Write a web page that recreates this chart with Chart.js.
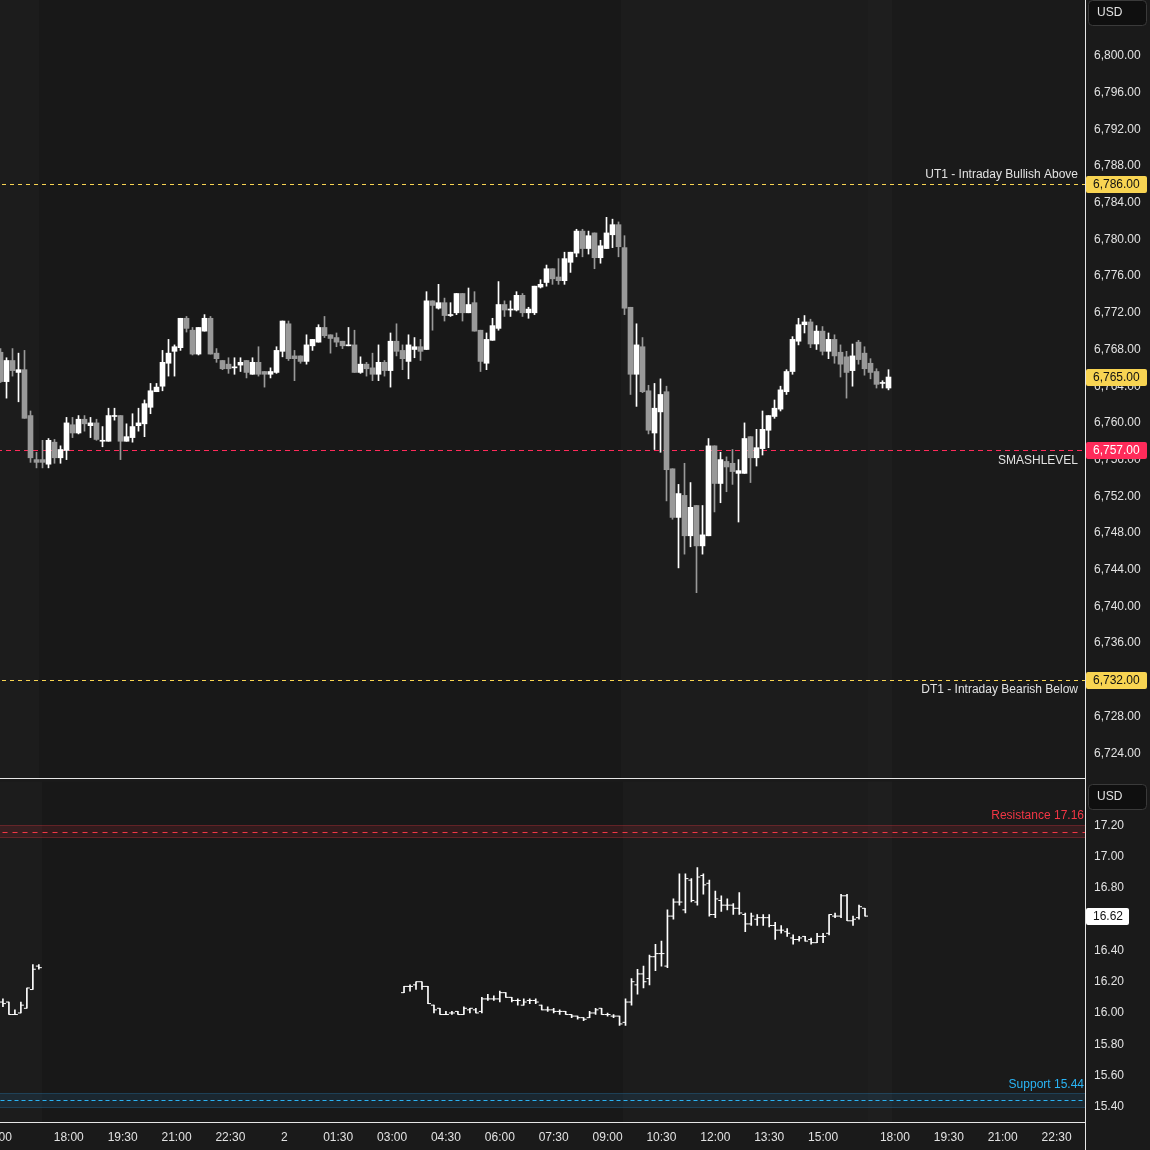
<!DOCTYPE html>
<html>
<head>
<meta charset="utf-8">
<script src="https://cdn.jsdelivr.net/npm/chart.js@4.4.1/dist/chart.umd.min.js"></script>
<style>
  html, body { margin: 0; padding: 0; background: #1a1a1a; overflow: hidden; }
  #wrap { position: relative; width: 1150px; height: 1150px; overflow: hidden; background: #1a1a1a; }
  #top { position: absolute; left: -30px; top: 0; }
  #bot { position: absolute; left: -30px; top: 779px; }
</style>
</head>
<body>
<div id="wrap">
  <canvas id="top" width="1180" height="779"></canvas>
  <canvas id="bot" width="1180" height="371"></canvas>
</div>
<script>
'use strict';

// ES 10-minute candles, one slot per bar (bar 0 sits on the left edge)
const esOpen = [
  6767.7, 6764.5, 6766.8, 6765.5, 6765.8, 6760.8, 6756.0, 6756.0, 6755.5, 6757.9,
  6756.2, 6757.0, 6759.8, 6758.9, 6760.4, 6759.7, 6760.0, 6758.0, 6758.0, 6760.7,
  6760.8, 6758.0, 6758.4, 6759.7, 6759.9, 6761.7, 6763.4, 6764.0, 6766.5, 6767.8,
  6768.2, 6771.4, 6770.1, 6767.5, 6770.0, 6771.4, 6767.6, 6766.8, 6766.4, 6766.0,
  6766.3, 6766.8, 6765.3, 6766.6, 6765.6, 6765.3, 6765.5, 6767.8, 6770.8, 6767.3,
  6767.3, 6766.7, 6768.4, 6768.8, 6770.4, 6769.6, 6769.3, 6768.9, 6768.4, 6768.5,
  6765.5, 6766.4, 6766.0, 6765.3, 6766.6, 6765.7, 6768.9, 6767.9, 6766.7, 6768.0,
  6768.3, 6768.0, 6773.3, 6772.5, 6773.1, 6771.7, 6772.0, 6774.1, 6772.0, 6773.1,
  6770.1, 6766.5, 6769.0, 6770.3, 6772.9, 6772.3, 6772.3, 6773.9, 6772.0, 6772.0,
  6774.8, 6775.3, 6776.8, 6775.9, 6775.5, 6777.5, 6778.5, 6780.9, 6779.0, 6780.7,
  6778.0, 6779.0, 6780.5, 6781.6, 6779.1, 6772.6, 6765.3, 6768.3, 6763.5, 6758.9,
  6761.2, 6763.4, 6755.0, 6749.7, 6752.1, 6747.7, 6751.0, 6746.6, 6747.7, 6757.5,
  6753.4, 6755.8, 6755.6, 6754.5, 6754.5, 6758.5, 6756.2, 6757.2, 6759.2, 6760.7,
  6761.5, 6763.4, 6765.6, 6768.9, 6770.7, 6771.0, 6768.6, 6770.0, 6767.8, 6769.1,
  6767.7, 6767.2, 6765.7, 6768.8, 6767.6, 6766.5, 6765.6, 6764.3, 6763.8
];
const esHigh = [
  6768.1, 6767.1, 6768.1, 6767.6, 6767.9, 6761.3, 6756.8, 6758.1, 6758.3, 6758.2,
  6757.5, 6760.6, 6760.6, 6760.8, 6760.8, 6760.6, 6760.4, 6759.6, 6761.6, 6761.6,
  6760.8, 6759.9, 6761.0, 6761.6, 6762.5, 6764.3, 6764.3, 6767.9, 6769.1, 6768.5,
  6771.4, 6771.6, 6770.4, 6770.4, 6771.8, 6771.6, 6768.1, 6766.8, 6767.1, 6767.1,
  6767.1, 6766.8, 6767.1, 6768.3, 6765.6, 6766.0, 6768.3, 6771.1, 6771.1, 6767.9,
  6767.3, 6769.6, 6769.1, 6770.7, 6771.6, 6769.6, 6769.8, 6768.9, 6770.4, 6770.1,
  6767.2, 6766.6, 6767.6, 6768.5, 6766.8, 6769.8, 6770.8, 6768.5, 6769.6, 6769.3,
  6769.1, 6774.3, 6773.3, 6775.1, 6773.6, 6773.1, 6774.1, 6774.1, 6774.7, 6774.3,
  6770.1, 6769.8, 6771.4, 6775.4, 6773.3, 6773.3, 6774.3, 6774.1, 6772.6, 6774.9,
  6775.6, 6777.2, 6776.8, 6777.9, 6778.6, 6778.6, 6781.1, 6781.1, 6780.9, 6780.7,
  6779.9, 6782.4, 6782.2, 6781.9, 6780.4, 6772.6, 6770.8, 6769.3, 6764.1, 6764.3,
  6764.8, 6764.0, 6755.0, 6753.3, 6755.6, 6753.5, 6751.0, 6751.0, 6758.3, 6757.5,
  6756.8, 6756.3, 6757.1, 6756.0, 6760.0, 6758.5, 6759.3, 6761.3, 6760.8, 6762.5,
  6764.0, 6765.8, 6769.4, 6771.4, 6771.7, 6771.3, 6770.6, 6770.5, 6769.8, 6769.6,
  6768.5, 6767.8, 6768.6, 6769.0, 6768.3, 6767.0, 6765.9, 6764.6, 6765.8
];
const esLow = [
  6764.4, 6762.7, 6765.1, 6762.3, 6760.5, 6755.7, 6755.1, 6755.1, 6755.1, 6755.6,
  6755.6, 6756.0, 6758.4, 6758.8, 6759.1, 6758.4, 6758.1, 6757.4, 6758.0, 6760.3,
  6756.0, 6758.0, 6757.9, 6759.1, 6758.5, 6761.0, 6763.4, 6763.5, 6765.1, 6765.1,
  6767.9, 6769.9, 6767.4, 6767.4, 6770.0, 6767.5, 6766.6, 6765.8, 6765.4, 6765.3,
  6765.6, 6764.9, 6765.3, 6765.1, 6763.9, 6764.9, 6765.4, 6767.2, 6766.8, 6764.6,
  6766.5, 6766.4, 6767.9, 6768.8, 6769.3, 6767.6, 6768.3, 6768.1, 6768.4, 6765.5,
  6765.4, 6765.1, 6764.6, 6764.6, 6765.1, 6763.9, 6767.3, 6765.8, 6764.8, 6767.1,
  6766.8, 6768.0, 6770.1, 6772.4, 6771.1, 6771.6, 6771.8, 6771.1, 6772.0, 6770.0,
  6765.6, 6765.8, 6769.0, 6770.1, 6771.6, 6771.6, 6772.2, 6771.6, 6771.4, 6771.8,
  6774.7, 6774.9, 6775.1, 6775.1, 6775.1, 6776.4, 6778.1, 6778.1, 6778.4, 6776.8,
  6777.4, 6779.0, 6779.1, 6778.1, 6771.8, 6763.1, 6761.8, 6763.3, 6758.8, 6757.1,
  6756.8, 6751.5, 6749.5, 6744.2, 6745.7, 6746.5, 6741.5, 6745.7, 6747.7, 6750.3,
  6751.3, 6752.5, 6753.3, 6749.2, 6754.5, 6753.5, 6755.3, 6756.5, 6757.3, 6760.5,
  6761.3, 6763.1, 6765.3, 6768.5, 6769.8, 6768.2, 6768.0, 6767.4, 6767.0, 6766.5,
  6765.0, 6762.7, 6764.0, 6766.4, 6765.2, 6764.8, 6763.8, 6763.8, 6763.6
];
const esClose = [
  6764.5, 6766.8, 6765.7, 6765.8, 6760.5, 6756.2, 6755.7, 6755.7, 6758.1, 6756.2,
  6757.1, 6760.0, 6758.9, 6760.4, 6759.9, 6760.0, 6758.2, 6758.1, 6760.8, 6760.8,
  6758.0, 6758.5, 6759.6, 6760.0, 6762.1, 6763.5, 6763.9, 6766.6, 6767.6, 6768.3,
  6771.4, 6770.3, 6767.5, 6770.4, 6771.4, 6767.5, 6767.0, 6765.9, 6765.9, 6766.1,
  6766.6, 6765.5, 6766.6, 6765.3, 6765.3, 6765.6, 6767.9, 6771.1, 6767.0, 6767.0,
  6766.7, 6768.5, 6769.1, 6770.4, 6769.5, 6769.2, 6768.8, 6768.4, 6768.5, 6765.5,
  6766.4, 6765.9, 6765.3, 6766.6, 6765.7, 6768.9, 6767.8, 6767.0, 6768.5, 6768.3,
  6767.8, 6773.3, 6772.8, 6773.1, 6771.7, 6771.8, 6774.1, 6772.0, 6772.9, 6770.0,
  6766.7, 6769.1, 6770.6, 6772.9, 6772.3, 6772.4, 6773.9, 6772.0, 6772.4, 6774.9,
  6775.1, 6776.8, 6775.7, 6775.5, 6777.9, 6778.6, 6780.9, 6779.0, 6780.4, 6778.0,
  6779.3, 6780.7, 6781.6, 6779.2, 6772.5, 6765.3, 6768.5, 6763.4, 6759.2, 6761.6,
  6763.1, 6754.9, 6749.7, 6752.3, 6747.7, 6750.8, 6746.6, 6747.8, 6757.5, 6753.4,
  6756.0, 6755.2, 6754.7, 6754.8, 6758.3, 6756.2, 6757.3, 6759.3, 6760.8, 6761.6,
  6763.6, 6765.6, 6769.1, 6770.7, 6771.0, 6768.6, 6770.0, 6767.8, 6769.1, 6767.3,
  6766.4, 6765.5, 6767.3, 6766.9, 6765.9, 6765.5, 6764.2, 6764.4, 6765.0
];

// VIX bars: a short overnight stub (bars 0-6), then the cash session from bar 67
const vixBars = [0, 1, 2, 3, 4, 5, 6].concat(Array.from({ length: 78 }, (_, k) => 67 + k));
const vixOpen = [
  16.07, 16.07, 15.99, 16.00, 16.03, 16.15, 16.30,
  16.13, 16.17, 16.18, 16.20, 16.17, 16.05, 16.03, 15.99, 16.00, 16.01,
  15.99, 16.02, 16.02, 16.01, 16.09, 16.09, 16.09, 16.13, 16.10, 16.08,
  16.05, 16.08, 16.08, 16.05, 16.02, 16.02, 16.01, 16.01, 15.99, 15.98,
  15.97, 15.97, 16.00, 16.03, 15.99, 15.98, 15.98, 15.94, 16.07, 16.18,
  16.25, 16.22, 16.36, 16.38, 16.30, 16.62, 16.71, 16.66, 16.85, 16.71,
  16.88, 16.83, 16.63, 16.72, 16.69, 16.69, 16.67, 16.63, 16.57, 16.60,
  16.61, 16.61, 16.56, 16.53, 16.52, 16.48, 16.47, 16.49, 16.47, 16.45,
  16.49, 16.51, 16.62, 16.62, 16.75, 16.59, 16.61, 16.67
];
const vixHigh = [
  16.09, 16.07, 16.02, 16.07, 16.16, 16.31, 16.31,
  16.17, 16.18, 16.20, 16.20, 16.17, 16.05, 16.03, 16.01, 16.01, 16.01,
  16.04, 16.03, 16.03, 16.10, 16.12, 16.11, 16.14, 16.13, 16.10, 16.09,
  16.09, 16.09, 16.09, 16.05, 16.04, 16.03, 16.02, 16.01, 15.99, 15.98,
  15.97, 16.01, 16.03, 16.03, 16.00, 15.99, 15.98, 16.09, 16.22, 16.28,
  16.30, 16.37, 16.44, 16.46, 16.66, 16.73, 16.89, 16.89, 16.86, 16.93,
  16.89, 16.85, 16.78, 16.75, 16.73, 16.70, 16.77, 16.64, 16.64, 16.63,
  16.63, 16.63, 16.58, 16.56, 16.54, 16.50, 16.49, 16.49, 16.48, 16.51,
  16.51, 16.63, 16.64, 16.76, 16.76, 16.62, 16.69, 16.67
];
const vixLow = [
  16.04, 15.99, 15.99, 16.00, 16.03, 16.15, 16.28,
  16.13, 16.14, 16.15, 16.15, 16.06, 16.00, 15.99, 15.99, 15.99, 15.99,
  15.99, 16.00, 16.00, 16.00, 16.08, 16.08, 16.07, 16.10, 16.07, 16.05,
  16.05, 16.06, 16.06, 16.02, 16.01, 16.00, 15.99, 15.99, 15.97, 15.96,
  15.95, 15.97, 15.99, 15.99, 15.98, 15.97, 15.92, 15.92, 16.05, 16.12,
  16.16, 16.18, 16.27, 16.30, 16.29, 16.60, 16.69, 16.64, 16.71, 16.69,
  16.76, 16.62, 16.61, 16.65, 16.66, 16.63, 16.63, 16.52, 16.56, 16.56,
  16.56, 16.55, 16.47, 16.51, 16.49, 16.44, 16.46, 16.46, 16.44, 16.45,
  16.45, 16.50, 16.61, 16.61, 16.59, 16.56, 16.60, 16.62
];
const vixClose = [
  16.06, 15.99, 15.99, 16.05, 16.16, 16.28, 16.29,
  16.17, 16.17, 16.20, 16.17, 16.06, 16.02, 15.99, 15.99, 16.00, 15.99,
  16.03, 16.03, 16.00, 16.09, 16.09, 16.09, 16.13, 16.10, 16.08, 16.08,
  16.07, 16.08, 16.07, 16.02, 16.02, 16.01, 16.01, 15.99, 15.98, 15.97,
  15.96, 16.00, 16.02, 15.99, 15.99, 15.98, 15.93, 16.07, 16.20, 16.25,
  16.20, 16.36, 16.38, 16.38, 16.62, 16.71, 16.71, 16.86, 16.72, 16.87,
  16.82, 16.63, 16.73, 16.69, 16.69, 16.67, 16.64, 16.57, 16.62, 16.61,
  16.61, 16.56, 16.53, 16.53, 16.51, 16.47, 16.48, 16.46, 16.45, 16.49,
  16.49, 16.63, 16.62, 16.75, 16.59, 16.60, 16.68, 16.62
];

// price axis ticks
const esTicks = [6724, 6728, 6732, 6736, 6740, 6744, 6748, 6752, 6756, 6760,
  6764, 6768, 6772, 6776, 6780, 6784, 6788, 6792, 6796, 6800];
const vixTicks = [15.4, 15.6, 15.8, 16.0, 16.2, 16.4, 16.6, 16.8, 17.0, 17.2];

// time axis: bar slot of each label and its text
const timeTicks = [-1, 11, 20, 29, 38, 47, 56, 65, 74, 83, 92, 101, 110, 119, 128, 137, 149, 158, 167, 176];
const timeLabels = ['15:00', '18:00', '19:30', '21:00', '22:30', '2', '01:30', '03:00', '04:30', '06:00',
  '07:30', '09:00', '10:30', '12:00', '13:30', '15:00', '18:00', '19:30', '21:00', '22:30'];

// drawn levels
const esLevels = [6786, 6757, 6732];
const esLevelNames = ['UT1 - Intraday Bullish Above', 'SMASHLEVEL', 'DT1 - Intraday Bearish Below'];
const vixResistance = 17.16;
const vixSupport = 15.44;

const UP = '#ffffff';
const DOWN = '#999999';
const TEXT = '#e2e2e2';
const YELLOW = '#f8d452';
const PINK = '#ff2b5a';
const FONT = '"Liberation Sans", Arial, sans-serif';
Chart.defaults.font.family = FONT;
Chart.defaults.font.size = 12;

// bar slot -> pixel: 6px a bar, chart canvas shifted 30px to the left
const xMin = -5 - 0.5 / 6;
const xMax = xMin + 1115 / 6;

// sessions shading [from, to, colour] in bar slots
const sessions = [[-20, 6.5, '#1c1c1c'], [103.5, 144.5, '#1c1c1c'], [144.5, 148.5, '#1e1e1e'], [148.5, 300, '#1a1a1a']];

function fmt(v) {
  return v.toLocaleString('en-US', { minimumFractionDigits: 2, maximumFractionDigits: 2 });
}

function paintSessions(ctx, a, x) {
  ctx.fillStyle = '#181818';
  ctx.fillRect(a.left, a.top, a.width, a.height);
  sessions.forEach(function (s) {
    const l = Math.round(Math.max(a.left, x.getPixelForValue(s[0])));
    const r = Math.round(Math.min(a.right, x.getPixelForValue(s[1])));
    if (r > l) {
      ctx.fillStyle = s[2];
      ctx.fillRect(l, a.top, r - l, a.height);
    }
  });
}

function hline(ctx, a, py, color, dash) {
  ctx.strokeStyle = color;
  ctx.lineWidth = 1;
  ctx.setLineDash(dash);
  ctx.beginPath();
  ctx.moveTo(a.left, py);
  ctx.lineTo(a.right, py);
  ctx.stroke();
  ctx.setLineDash([]);
}

function tag(ctx, x0, py, w, text, bg, fg) {
  ctx.fillStyle = bg;
  ctx.beginPath();
  ctx.roundRect(x0, Math.round(py) - 8, w, 17, 2);
  ctx.fill();
  ctx.fillStyle = fg;
  ctx.textAlign = 'left';
  ctx.textBaseline = 'middle';
  ctx.fillText(text, x0 + 7, Math.round(py) + 0.5);
}

function usdBox(ctx, x0, y0) {
  ctx.fillStyle = '#0f0f0f';
  ctx.strokeStyle = '#3a3a3a';
  ctx.lineWidth = 1;
  ctx.beginPath();
  ctx.roundRect(x0 + 0.5, y0 + 0.5, 58, 25, 4);
  ctx.fill();
  ctx.stroke();
  ctx.fillStyle = TEXT;
  ctx.textAlign = 'left';
  ctx.textBaseline = 'middle';
  ctx.fillText('USD', x0 + 9, y0 + 13);
}

function frame(ctx, chart, bottomY) {
  const a = chart.chartArea;
  ctx.fillStyle = '#e6e6e6';
  ctx.fillRect(a.right, 0, 1, chart.height);
  ctx.fillRect(0, bottomY, a.right, 1);
}

const candleColor = function (c) {
  return esClose[c.dataIndex] >= esOpen[c.dataIndex] ? UP : DOWN;
};

const topOverlay = {
  id: 'topOverlay',
  beforeDatasetsDraw(chart) {
    const ctx = chart.ctx, a = chart.chartArea, y = chart.scales.y;
    ctx.save();
    paintSessions(ctx, a, chart.scales.x);
    esLevels.forEach(function (v, k) {
      const py = Math.round(y.getPixelForValue(v)) + 0.5;
      hline(ctx, a, py, k === 1 ? PINK : YELLOW, k === 1 ? [5, 4] : [4, 4]);
    });
    ctx.restore();
  },
  afterDraw(chart) {
    const ctx = chart.ctx, a = chart.chartArea, y = chart.scales.y;
    ctx.save();
    ctx.font = '12px ' + FONT;
    esLevels.forEach(function (v, k) {
      const py = y.getPixelForValue(v);
      ctx.textAlign = 'right';
      ctx.textBaseline = 'middle';
      ctx.fillStyle = TEXT;
      ctx.fillText(esLevelNames[k], a.right - 7, py + (k === 0 ? -10 : 10));
    });
    const x0 = a.right + 1;
    const last = esClose[esClose.length - 1];
    tag(ctx, x0, y.getPixelForValue(esLevels[0]), 61, fmt(esLevels[0]), YELLOW, '#111');
    tag(ctx, x0, y.getPixelForValue(last), 61, fmt(last), YELLOW, '#111');
    tag(ctx, x0, y.getPixelForValue(esLevels[1]), 61, fmt(esLevels[1]), PINK, '#ffffff');
    tag(ctx, x0, y.getPixelForValue(esLevels[2]), 61, fmt(esLevels[2]), YELLOW, '#111');
    usdBox(ctx, a.right + 3, 0);
    frame(ctx, chart, a.bottom);
    ctx.restore();
  }
};

const botOverlay = {
  id: 'botOverlay',
  beforeDatasetsDraw(chart) {
    const ctx = chart.ctx, a = chart.chartArea, y = chart.scales.y;
    ctx.save();
    paintSessions(ctx, a, chart.scales.x);
    // resistance zone
    let t = Math.round(y.getPixelForValue(vixResistance + 0.04)), b = Math.round(y.getPixelForValue(vixResistance - 0.04));
    ctx.fillStyle = 'rgba(242, 54, 69, 0.13)';
    ctx.fillRect(a.left, t, a.width, b - t);
    ctx.fillStyle = 'rgba(242, 54, 69, 0.25)';
    ctx.fillRect(a.left, t, a.width, 1);
    ctx.fillRect(a.left, b - 1, a.width, 1);
    hline(ctx, a, Math.round(y.getPixelForValue(vixResistance)) + 0.5, '#f23645', [5, 5]);
    // support zone
    t = Math.round(y.getPixelForValue(vixSupport + 0.045));
    b = Math.round(y.getPixelForValue(vixSupport - 0.045));
    ctx.fillStyle = 'rgba(41, 150, 220, 0.12)';
    ctx.fillRect(a.left, t, a.width, b - t);
    ctx.fillStyle = 'rgba(41, 150, 220, 0.22)';
    ctx.fillRect(a.left, t, a.width, 1);
    ctx.fillRect(a.left, b - 1, a.width, 1);
    hline(ctx, a, Math.round(y.getPixelForValue(vixSupport)) + 0.5, '#2ab4f5', [4, 3]);
    ctx.restore();
  },
  afterDraw(chart) {
    const ctx = chart.ctx, a = chart.chartArea, y = chart.scales.y;
    ctx.save();
    ctx.font = '12px ' + FONT;
    ctx.textAlign = 'right';
    ctx.textBaseline = 'middle';
    ctx.fillStyle = '#f23645';
    ctx.fillText('Resistance ' + vixResistance.toFixed(2), a.right - 1, y.getPixelForValue(vixResistance) - 16);
    ctx.fillStyle = '#2ab4f5';
    ctx.fillText('Support ' + vixSupport.toFixed(2), a.right - 1, y.getPixelForValue(vixSupport) - 16);
    const last = vixClose[vixClose.length - 1];
    tag(ctx, a.right + 1, y.getPixelForValue(last), 43, last.toFixed(2), '#ffffff', '#111');
    usdBox(ctx, a.right + 3, 5);
    frame(ctx, chart, a.bottom);
    ctx.restore();
  }
};

const yAxisBase = {
  position: 'right',
  grid: { display: false, drawTicks: false },
  border: { display: false },
  ticks: { color: TEXT, padding: 9, font: { size: 12 } },
  afterFit: function (s) { s.width = 65; s.paddingTop = 0; s.paddingBottom = 0; }
};

new Chart(document.getElementById('top'), {
  type: 'bar',
  data: {
    datasets: [
      {
        label: 'wick',
        data: esHigh.map(function (h, i) { return { x: i, y: [esLow[i], h] }; }),
        backgroundColor: candleColor,
        barThickness: 1,
        grouped: false,
        order: 2
      },
      {
        label: 'body',
        data: esOpen.map(function (o, i) { return { x: i, y: [o, esClose[i]] }; }),
        backgroundColor: candleColor,
        barThickness: 5,
        minBarLength: 1,
        grouped: false,
        order: 1
      }
    ]
  },
  options: {
    responsive: false,
    animation: false,
    devicePixelRatio: 1,
    layout: { padding: { left: 0, right: 0, top: 0, bottom: 1 } },
    plugins: { legend: { display: false }, tooltip: { enabled: false } },
    scales: {
      x: { type: 'linear', min: xMin, max: xMax, offset: false, display: false },
      y: Object.assign({}, yAxisBase, {
        min: 6721.306,
        max: 6806.083,
        afterBuildTicks: function (s) { s.ticks = esTicks.map(function (v) { return { value: v }; }); },
        ticks: Object.assign({}, yAxisBase.ticks, { callback: function (v) { return fmt(v); } })
      })
    }
  },
  plugins: [topOverlay]
});

new Chart(document.getElementById('bot'), {
  type: 'bar',
  data: {
    datasets: [
      {
        label: 'range',
        data: vixBars.map(function (b, k) { return { x: b, y: [vixLow[k], vixHigh[k]] }; }),
        backgroundColor: UP,
        barThickness: 1,
        minBarLength: 1,
        grouped: false
      },
      {
        type: 'line',
        label: 'open',
        data: vixBars.map(function (b, k) { return { x: b - 0.25, y: vixOpen[k] }; }),
        showLine: false,
        pointStyle: 'line',
        pointRadius: 1.5,
        pointHoverRadius: 1.5,
        pointBorderWidth: 1,
        pointBorderColor: UP,
        borderColor: UP
      },
      {
        type: 'line',
        label: 'close',
        data: vixBars.map(function (b, k) { return { x: b + 0.25, y: vixClose[k] }; }),
        showLine: false,
        pointStyle: 'line',
        pointRadius: 1.5,
        pointHoverRadius: 1.5,
        pointBorderWidth: 1,
        pointBorderColor: UP,
        borderColor: UP
      }
    ]
  },
  options: {
    responsive: false,
    animation: false,
    devicePixelRatio: 1,
    layout: { padding: 0 },
    plugins: { legend: { display: false }, tooltip: { enabled: false } },
    scales: {
      x: {
        type: 'linear',
        min: xMin,
        max: xMax,
        offset: false,
        position: 'bottom',
        grid: { display: false, drawTicks: false },
        border: { display: false },
        afterBuildTicks: function (s) { s.ticks = timeTicks.map(function (v) { return { value: v }; }); },
        afterFit: function (s) { s.height = 28; s.paddingLeft = 0; s.paddingRight = 0; },
        ticks: {
          color: TEXT,
          padding: 8,
          autoSkip: false,
          maxRotation: 0,
          minRotation: 0,
          font: { size: 12 },
          callback: function (v, i) { return timeLabels[i]; }
        }
      },
      y: Object.assign({}, yAxisBase, {
        min: 15.3023,
        max: 17.4814,
        afterBuildTicks: function (s) { s.ticks = vixTicks.map(function (v) { return { value: v }; }); },
        ticks: Object.assign({}, yAxisBase.ticks, { callback: function (v) { return v.toFixed(2); } })
      })
    }
  },
  plugins: [botOverlay]
});
</script>
</body>
</html>
